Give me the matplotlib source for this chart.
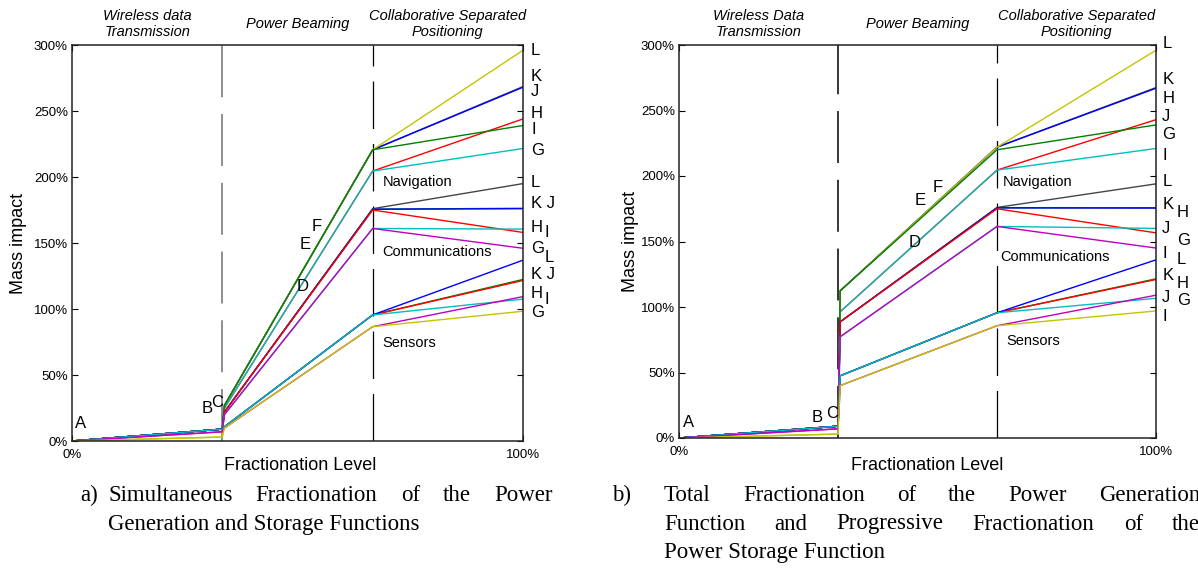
"""Mass impact vs fractionation level for the two power fractionation cases."""

import matplotlib
matplotlib.use('Agg')
import matplotlib.pyplot as plt

W, H = 1198, 571

# fractionation level nodes (0, end of wireless data, start of beaming, end of beaming, 100%)
levels = [0, 1 / 3, 0.338, 2 / 3, 1]

variants = ['G', 'H', 'I', 'J', 'K', 'L']
groups = ['Navigation', 'Communications', 'Sensors']

# --- panel a: simultaneous fractionation (rows G..L, mass impact in %)
nav_a = [[0, 9, 25, 204.5, 221.6],
         [0, 9, 25, 204.5, 244.0],
         [0, 9, 27, 220.6, 239.0],
         [0, 9, 27, 220.6, 268.0],
         [0, 9, 27, 220.6, 268.5],
         [0, 3, 27, 220.6, 296.0]]
comm_a = [[0, 7, 20, 161.0, 146.0],
          [0, 9, 22, 175.0, 158.0],
          [0, 9, 20, 161.0, 160.5],
          [0, 9, 22, 175.6, 176.0],
          [0, 9, 22, 175.6, 176.3],
          [0, 9, 22, 176.0, 195.0]]
sens_a = [[0, 3, 9.8, 86.6, 98.3],
          [0, 7, 9.8, 86.6, 109.4],
          [0, 9, 10.8, 95.5, 107.5],
          [0, 9, 10.8, 95.5, 121.6],
          [0, 9, 10.8, 95.5, 122.4],
          [0, 9, 10.8, 95.5, 137.0]]

# --- panel b: total generation + progressive storage fractionation
nav_b = [[0, 9, 96.4, 204.5, 221.0],
         [0, 9, 96.4, 204.5, 243.0],
         [0, 9, 112.4, 220.0, 239.0],
         [0, 9, 112.4, 222.0, 267.0],
         [0, 9, 112.4, 222.0, 267.5],
         [0, 3, 112.4, 222.0, 296.0]]
comm_b = [[0, 7, 77.3, 161.5, 145.0],
          [0, 9, 88.7, 175.0, 156.6],
          [0, 9, 77.3, 161.5, 160.0],
          [0, 9, 88.7, 175.7, 175.5],
          [0, 9, 88.7, 175.7, 175.8],
          [0, 9, 88.7, 176.0, 194.0]]
sens_b = [[0, 3, 40.0, 85.7, 97.0],
          [0, 7, 40.0, 85.7, 109.0],
          [0, 9, 47.5, 95.6, 106.6],
          [0, 9, 47.5, 95.6, 121.0],
          [0, 9, 47.5, 95.6, 121.5],
          [0, 9, 47.5, 95.6, 136.0]]

# end-of-line tags
tags_a = ['L', 'K', 'J', 'H', 'I', 'G',
          'L', 'K J', 'H', 'I', 'G',
          'L', 'K J', 'H', 'I', 'G']
tag_y_a = [296, 276, 265, 248, 236, 220,
           196, 180, 162, 158, 146,
           139, 126, 112, 107, 97]
tag_col_a = [0, 0, 0, 0, 0, 0,
             0, 0, 0, 1, 0,
             1, 0, 0, 1, 0]
tags_b = ['L', 'K', 'H', 'J', 'G', 'I',
          'L', 'K', 'H', 'J', 'G', 'I', 'L',
          'K', 'H', 'J', 'G', 'I']
tag_y_b = [301.5, 274, 259.5, 245.8, 231.3, 216,
           196, 178, 172.5, 160.3, 150.4, 140.5, 135.9,
           123.7, 118.3, 106.9, 105.3, 92.4]
tag_col_b = [0, 0, 0, 0, 0, 0,
             0, 0, 1, 0, 1, 0, 1,
             0, 1, 0, 1, 0]

# stage letters along the curves
stages = ['A', 'B', 'C', 'D', 'E', 'F']
stage_pos_a = [(0.019, 12.9), (0.299, 24.3), (0.321, 29.0), (0.512, 117), (0.517, 149), (0.543, 162.4)]
stage_pos_b = [(0.020, 11.7), (0.290, 15.3), (0.322, 19.0), (0.495, 149), (0.506, 181), (0.543, 191)]

regions_a = ['Wireless data\nTransmission', 'Power Beaming', 'Collaborative Separated\nPositioning']
regions_b = ['Wireless Data\nTransmission', 'Power Beaming', 'Collaborative Separated\nPositioning']

group_pos_a = [(0.689, 196.2), (0.689, 143.2), (0.689, 74.2)]
group_pos_b = [(0.679, 195.7), (0.674, 138.0), (0.687, 74.0)]

cap_a = [['Simultaneous', 'Fractionation', 'of', 'the', 'Power'],
         ['Generation and Storage Functions']]
cap_b = [['Total', 'Fractionation', 'of', 'the', 'Power', 'Generation'],
         ['Function', 'and', 'Progressive', 'Fractionation', 'of', 'the'],
         ['Power Storage Function']]

# MATLAB-ish colour order
B, G_, R, C, M, Y, K = '#0000ff', '#008000', '#ff0000', '#00bfbf', '#bf00bf', '#c4c400', '#454545'
nav_colors = [C, R, G_, B, K, Y]
comm_colors = [M, R, C, B, G_, K]
sens_colors = [Y, M, C, R, G_, B]
nav_order = [1, 0, 4, 3, 5, 2]
comm_order = [5, 4, 3, 1, 2, 0]
sens_order = [4, 3, 5, 2, 1, 0]

SANS = 'Liberation Sans'
SERIF = 'Liberation Serif'


def draw_panel(ax, data, regions, group_pos, tags, tag_y, tag_col, tag_x, stage_pos, first_dash):
    ax.axvline(1 / 3, color=first_dash, lw=1.1, ls=(0, (34, 11)), zorder=1)
    ax.axvline(2 / 3, color='black', lw=0.9, ls=(0, (38, 12)), zorder=1)

    for vals, cols, order in data:
        for i in order:
            ax.plot(levels, vals[i], color=cols[i], lw=1.0, zorder=2)

    ax.set_xlim(0, 1)
    ax.set_ylim(0, 300)
    ax.set_yticks(range(0, 301, 50))
    ax.set_yticklabels([f'{v}%' for v in range(0, 301, 50)], fontsize=9.5, family=SANS)
    ax.set_xticks([0, 1])
    ax.set_xticklabels(['0%', '100%'], fontsize=9.5, family=SANS)
    ax.tick_params(direction='in', top=True, right=True, length=4, width=0.8)
    ax.tick_params(axis='x', pad=6)
    ax.tick_params(axis='y', pad=3)
    for s in ax.spines.values():
        s.set_linewidth(1.1)
        s.set_color('#222222')

    ax.set_xlabel('Fractionation Level', fontsize=13, family=SANS, va='top')
    ax.set_ylabel('Mass impact', fontsize=13, family=SANS)

    trans = ax.get_xaxis_transform()
    for k, txt in enumerate(regions):
        ax.text((2 * k + 1) / 6, 1.053, txt, transform=trans, ha='center', va='center',
                fontsize=10.5, style='italic', family=SANS, linespacing=1.2)

    for name, (x, y) in zip(groups, group_pos):
        ax.text(x, y, name, ha='left', va='center', fontsize=10.5, family=SANS)

    for t, y, c in zip(tags, tag_y, tag_col):
        ax.text(tag_x[c], y, t, ha='left', va='center', fontsize=12, family=SANS, clip_on=False)

    for s, (x, y) in zip(stages, stage_pos):
        ax.text(x, y, s, ha='center', va='center', fontsize=12, family=SANS)


def justify(fig, words, x0, x1, y, size):
    texts = [fig.text(0, 0, w, fontsize=size, family=SERIF, va='baseline') for w in words]
    if len(words) == 1:
        texts[0].set_position((x0 / W, 1 - y / H))
        return
    r = fig.canvas.get_renderer()
    widths = [t.get_window_extent(r).width for t in texts]
    gap = (x1 - x0 - sum(widths)) / (len(words) - 1)
    x = x0
    for t, w in zip(texts, widths):
        t.set_position((x / W, 1 - y / H))
        x += w + gap


def main():
    fig = plt.figure(figsize=(W / 100, H / 100), dpi=100)
    ax_a = fig.add_axes([72 / W, 1 - 441 / H, 451 / W, 396 / H])
    ax_b = fig.add_axes([679 / W, 1 - 438 / H, 477 / W, 393 / H])

    draw_panel(ax_a,
               [(nav_a, nav_colors, nav_order), (comm_a, comm_colors, comm_order), (sens_a, sens_colors, sens_order)],
               regions_a, group_pos_a, tags_a, tag_y_a, tag_col_a, (1.018, 1.048), stage_pos_a, '#707070')
    draw_panel(ax_b,
               [(nav_b, nav_colors, nav_order), (comm_b, comm_colors, comm_order), (sens_b, sens_colors, sens_order)],
               regions_b, group_pos_b, tags_b, tag_y_b, tag_col_b, (1.013, 1.044), stage_pos_b, 'black')

    ax_a.yaxis.set_label_coords(-0.1, 0.5)
    ax_a.xaxis.set_label_coords(0.505, -0.04)
    ax_b.yaxis.set_label_coords(-0.084, 0.5)
    ax_b.xaxis.set_label_coords(0.52, -0.048)

    fs = 16.5
    fig.text(80 / W, 1 - 501 / H, 'a)', fontsize=fs, family=SERIF, va='baseline')
    for k, line in enumerate(cap_a):
        justify(fig, line, 108, 553, 501 + 29 * k, fs)
    fig.text(612 / W, 1 - 501 / H, 'b)', fontsize=fs, family=SERIF, va='baseline')
    for k, line in enumerate(cap_b):
        justify(fig, line, 664, 1200, 501 + 28.5 * k, fs)

    fig.savefig('out.png', dpi=100)


if __name__ == '__main__':
    main()
